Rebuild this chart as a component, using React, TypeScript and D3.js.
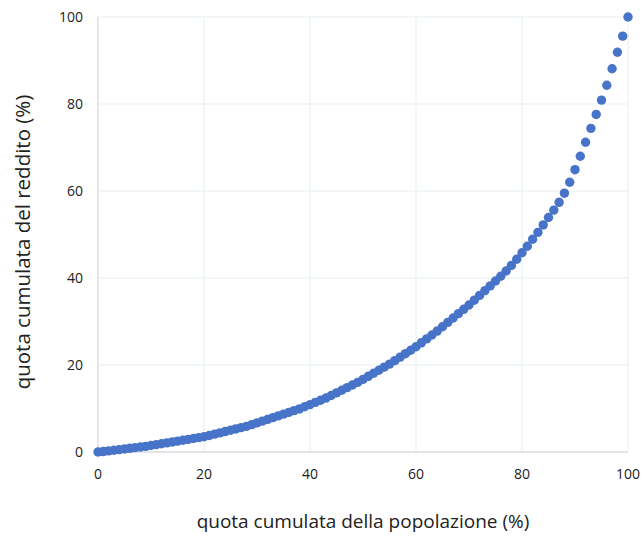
import React from 'react';
import * as d3 from 'd3';

// cumulative population share (%), one point per percentile
const popShare: number[] = d3.range(0, 101);

// cumulative income share (%)
const incomeShare: number[] = [
  0, 0.1, 0.25, 0.4, 0.55, 0.7, 0.85, 1.0, 1.15, 1.3,
  1.5, 1.7, 1.9, 2.1, 2.3, 2.5, 2.7, 2.9, 3.1, 3.3,
  3.5, 3.8, 4.1, 4.4, 4.7, 5.0, 5.3, 5.6, 5.9, 6.3,
  6.7, 7.1, 7.5, 7.9, 8.3, 8.7, 9.1, 9.5, 9.9, 10.4,
  10.9, 11.4, 11.9, 12.4, 13.0, 13.6, 14.2, 14.8, 15.4, 16.0,
  16.7, 17.4, 18.1, 18.8, 19.5, 20.2, 21.0, 21.8, 22.6, 23.4,
  24.2, 25.1, 26.0, 26.9, 27.8, 28.8, 29.8, 30.8, 31.8, 32.8,
  33.8, 34.9, 36.0, 37.1, 38.2, 39.3, 40.4, 41.6, 42.9, 44.3,
  45.8, 47.3, 48.9, 50.5, 52.2, 53.9, 55.6, 57.4, 59.5, 62.0,
  64.9, 68.0, 71.2, 74.4, 77.6, 80.9, 84.3, 88.1, 91.9, 95.6,
  100,
];

const xTicks = [0, 20, 40, 60, 80, 100];
const yTicks = [0, 20, 40, 60, 80, 100];

const xTitle = 'quota cumulata della popolazione (%)';
const yTitle = 'quota cumulata del reddito (%)';

export default function App() {
  const width = 642;
  const height = 537;
  const left = 98;
  const right = 628;
  const top = 17;
  const bottom = 452;

  const x = d3.scaleLinear().domain([0, 100]).range([left, right]);
  const y = d3.scaleLinear().domain([0, 100]).range([bottom, top]);

  const font = '"Open Sans", "Liberation Sans", sans-serif';

  return (
    <svg
      width={width}
      height={height}
      style={{ position: 'absolute', left: 0, top: 0, background: '#fff' }}
      fontFamily={font}
    >
      {/* grid */}
      <g stroke="#e6eff3" strokeWidth={1}>
        {yTicks.filter(t => t > 0).map(t => (
          <line key={'gy' + t} x1={left} x2={right} y1={y(t)} y2={y(t)} />
        ))}
        {xTicks.filter(t => t > 0).map(t => (
          <line key={'gx' + t} x1={x(t)} x2={x(t)} y1={top} y2={bottom} />
        ))}
      </g>

      {/* axes */}
      <line x1={left} x2={left} y1={top} y2={bottom} stroke="#d3d5dc" strokeWidth={1.2} />
      <line x1={left} x2={right} y1={bottom} y2={bottom} stroke="#c8cad2" strokeWidth={1.2} />

      {/* tick labels */}
      <g fontSize={14} fill="#222">
        {yTicks.map(t => (
          <text key={'ty' + t} x={83} y={y(t)} dy="0.35em" textAnchor="end">{t}</text>
        ))}
        {xTicks.map(t => (
          <text key={'tx' + t} x={x(t)} y={479} textAnchor="middle">{t}</text>
        ))}
      </g>

      {/* points */}
      <g fill="#4774c8">
        {popShare.map((p, i) => (
          <circle key={i} cx={x(p)} cy={y(incomeShare[i])} r={4.7} />
        ))}
      </g>

      {/* titles */}
      <text x={363} y={528} textAnchor="middle" fontSize={19} fill="#222">
        {xTitle}
      </text>
      <text
        transform={`translate(30,242) rotate(-90)`}
        textAnchor="middle"
        fontSize={20.5}
        fill="#222"
      >
        {yTitle}
      </text>
    </svg>
  );
}
